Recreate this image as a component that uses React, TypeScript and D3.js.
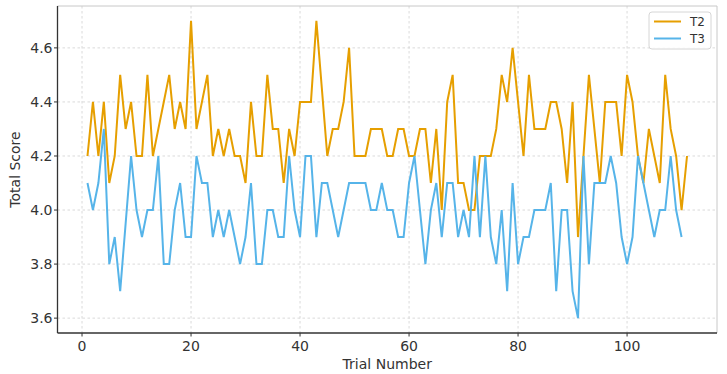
import React from 'react';
import * as d3 from 'd3';

// scores per trial, trial numbers start at 1
const t2Scores = [
  4.2, 4.4, 4.2, 4.4, 4.1, 4.2, 4.5, 4.3, 4.4, 4.2,
  4.2, 4.5, 4.2, 4.3, 4.4, 4.5, 4.3, 4.4, 4.3, 4.7,
  4.3, 4.4, 4.5, 4.2, 4.3, 4.2, 4.3, 4.2, 4.2, 4.1,
  4.4, 4.2, 4.2, 4.5, 4.3, 4.3, 4.1, 4.3, 4.2, 4.4,
  4.4, 4.4, 4.7, 4.45, 4.2, 4.3, 4.3, 4.4, 4.6, 4.2,
  4.2, 4.2, 4.3, 4.3, 4.3, 4.2, 4.2, 4.3, 4.3, 4.2,
  4.2, 4.3, 4.3, 4.1, 4.3, 4.0, 4.4, 4.5, 4.1, 4.1,
  4.0, 4.0, 4.2, 4.2, 4.2, 4.3, 4.5, 4.4, 4.6, 4.4,
  4.2, 4.5, 4.3, 4.3, 4.3, 4.4, 4.4, 4.3, 4.1, 4.4,
  3.9, 4.2, 4.5, 4.3, 4.1, 4.4, 4.4, 4.4, 4.2, 4.5,
  4.4, 4.2, 4.1, 4.3, 4.2, 4.1, 4.5, 4.3, 4.2, 4.0,
  4.2,
];

const t3Scores = [
  4.1, 4.0, 4.1, 4.3, 3.8, 3.9, 3.7, 3.95, 4.2, 4.0,
  3.9, 4.0, 4.0, 4.2, 3.8, 3.8, 4.0, 4.1, 3.9, 3.9,
  4.2, 4.1, 4.1, 3.9, 4.0, 3.9, 4.0, 3.9, 3.8, 3.9,
  4.1, 3.8, 3.8, 4.0, 4.0, 3.9, 3.9, 4.2, 4.0, 3.9,
  4.2, 4.2, 3.9, 4.1, 4.1, 4.0, 3.9, 4.0, 4.1, 4.1,
  4.1, 4.1, 4.0, 4.0, 4.1, 4.0, 4.0, 3.9, 3.9, 4.1,
  4.2, 4.0, 3.8, 4.0, 4.1, 3.9, 4.1, 4.1, 3.9, 4.0,
  3.9, 4.2, 3.9, 4.2, 3.9, 3.8, 4.0, 3.7, 4.1, 3.8,
  3.9, 3.9, 4.0, 4.0, 4.0, 4.1, 3.7, 4.0, 4.0, 3.7,
  3.6, 4.2, 3.8, 4.1, 4.1, 4.1, 4.2, 4.1, 3.9, 3.8,
  3.9, 4.2, 4.1, 4.0, 3.9, 4.0, 4.0, 4.2, 4.0, 3.9,
];

const seriesNames = ['T2', 'T3'];
const seriesColors = ['#E69F00', '#56B4E9'];
const xTicks = [0, 20, 40, 60, 80, 100];
const yTicks = [3.6, 3.8, 4.0, 4.2, 4.4, 4.6];

const width = 727;
const height = 374;
const font = '"DejaVu Sans", sans-serif';

export default function App() {
  const series = [t2Scores, t3Scores].map(vals => vals.map((v, i) => ({ trial: i + 1, score: v })));

  const allTrials = series.flat().map(d => d.trial);
  const allScores = series.flat().map(d => d.score);
  const [tMin, tMax] = d3.extent(allTrials) as [number, number];
  const [sMin, sMax] = d3.extent(allScores) as [number, number];
  // 5% padding on each side like matplotlib's auto margins
  const tPad = (tMax - tMin) * 0.05;
  const sPad = (sMax - sMin) * 0.05;

  const left = 57.5, right = 717, top = 6, bottom = 333;

  const x = d3.scaleLinear().domain([tMin - tPad, tMax + tPad]).range([left, right]);
  const y = d3.scaleLinear().domain([sMin - sPad, sMax + sPad]).range([bottom, top]);

  const line = d3.line<{ trial: number; score: number }>()
    .x(d => x(d.trial))
    .y(d => y(d.score));

  const gridColor = '#d0d0d0';
  const axisColor = '#333';
  const textColor = '#333';

  return (
    <svg width={width} height={height} style={{ position: 'absolute', left: 0, top: 0, background: '#fff' }}>
      <rect x={0} y={0} width={width} height={height} fill="#fff" />

      {/* grid */}
      {xTicks.map(t => (
        <line key={'gx' + t} x1={x(t)} x2={x(t)} y1={top} y2={bottom}
          stroke={gridColor} strokeWidth={0.8} strokeDasharray="2.5,2.5" />
      ))}
      {yTicks.map(t => (
        <line key={'gy' + t} x1={left} x2={right} y1={y(t)} y2={y(t)}
          stroke={gridColor} strokeWidth={0.8} strokeDasharray="2.5,2.5" />
      ))}

      {/* frame: light top/right, dark left/bottom */}
      <line x1={left} x2={right} y1={top} y2={top} stroke="#c8c8c8" strokeWidth={1} />
      <line x1={right} x2={right} y1={top} y2={bottom} stroke="#c8c8c8" strokeWidth={1} />

      {series.map((s, i) => (
        <path key={seriesNames[i]} d={line(s) || ''} fill="none"
          stroke={seriesColors[i]} strokeWidth={2} strokeLinejoin="miter" />
      ))}

      <line x1={left} x2={left} y1={top} y2={bottom} stroke={axisColor} strokeWidth={1.3} />
      <line x1={left} x2={right} y1={bottom} y2={bottom} stroke={axisColor} strokeWidth={1.3} />

      {/* y axis */}
      {yTicks.map(t => (
        <g key={'yt' + t}>
          <line x1={left - 3.5} x2={left} y1={y(t)} y2={y(t)} stroke={axisColor} strokeWidth={1} />
          <text x={left - 5} y={y(t)} dy="0.36em" textAnchor="end"
            fontFamily={font} fontSize={14} fill={textColor}>{t.toFixed(1)}</text>
        </g>
      ))}
      <text transform={`translate(15,${(top + bottom) / 2}) rotate(-90)`} textAnchor="middle"
        dy="0.36em" fontFamily={font} fontSize={14} fill={textColor}>Total Score</text>

      {/* x axis */}
      {xTicks.map(t => (
        <g key={'xt' + t}>
          <line x1={x(t)} x2={x(t)} y1={bottom} y2={bottom + 3.5} stroke={axisColor} strokeWidth={1} />
          <text x={x(t)} y={bottom + 17.5} textAnchor="middle"
            fontFamily={font} fontSize={14} fill={textColor}>{t}</text>
        </g>
      ))}
      <text x={(left + right) / 2} y={368.5} textAnchor="middle"
        fontFamily={font} fontSize={14} fill={textColor}>Trial Number</text>

      {/* legend */}
      <g>
        <rect x={649} y={12} width={62} height={37} rx={3} fill="#fff" fillOpacity={0.85}
          stroke="#d6d6d6" strokeWidth={1} />
        {seriesNames.map((name, i) => (
          <g key={'lg' + name}>
            <line x1={654} x2={681} y1={21.5 + i * 17} y2={21.5 + i * 17}
              stroke={seriesColors[i]} strokeWidth={2} />
            <text x={690} y={21.5 + i * 17} dy="0.36em" fontFamily={font} fontSize={12}
              fill={textColor}>{name}</text>
          </g>
        ))}
      </g>
    </svg>
  );
}
